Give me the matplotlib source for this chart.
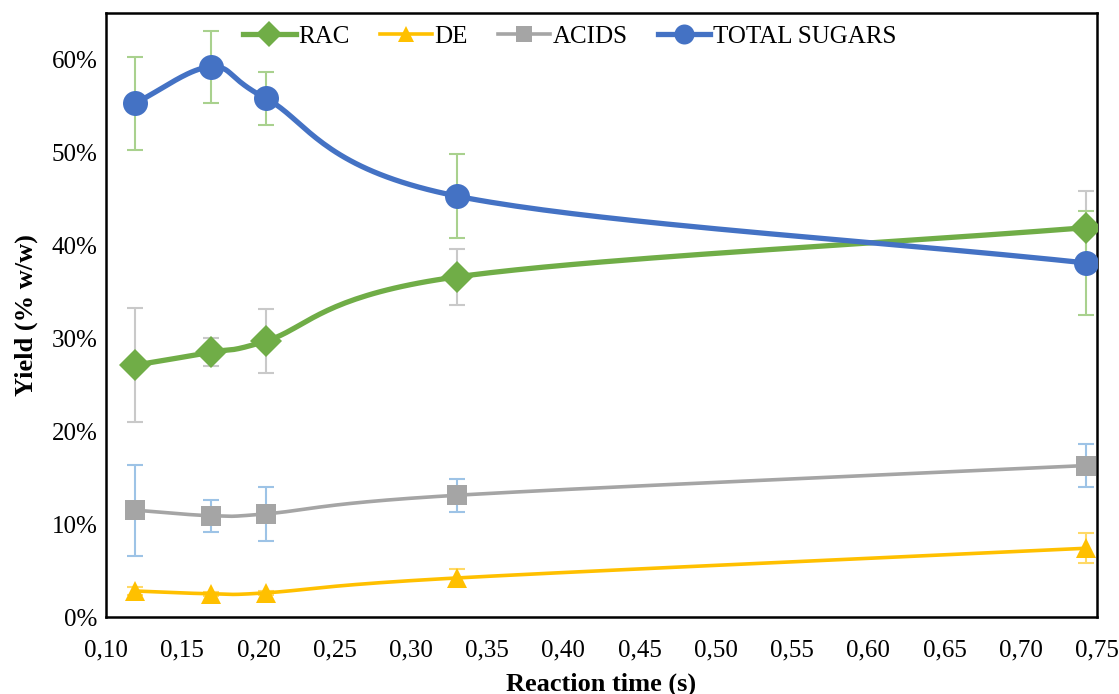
import matplotlib.pyplot as plt
import numpy as np
from matplotlib.ticker import FuncFormatter, MultipleLocator

plt.rcParams['font.family'] = ['Liberation Serif', 'DejaVu Serif']

# reaction time (s)
time_s = [0.119, 0.169, 0.205, 0.330, 0.743]

rac = [0.271, 0.285, 0.297, 0.366, 0.419]
rac_err = [0.061, 0.015, 0.034, 0.030, 0.039]
de = [0.028, 0.025, 0.026, 0.042, 0.074]
de_err = [0.004, 0.002, 0.002, 0.010, 0.016]
acids = [0.115, 0.109, 0.111, 0.131, 0.163]
acids_err = [0.049, 0.017, 0.029, 0.018, 0.023]
sugars = [0.553, 0.592, 0.558, 0.453, 0.381]
sugars_err = [0.050, 0.039, 0.029, 0.045, 0.056]

series_names = ["RAC", "DE", "ACIDS", "TOTAL SUGARS"]


def smooth(x, y, n=40):
    # excel-style smoothed line (catmull-rom through the points)
    x = np.asarray(x, float)
    y = np.asarray(y, float)
    px = np.concatenate([[2 * x[0] - x[1]], x, [2 * x[-1] - x[-2]]])
    py = np.concatenate([[2 * y[0] - y[1]], y, [2 * y[-1] - y[-2]]])
    xs, ys = [], []
    t = np.linspace(0, 1, n)
    for i in range(1, len(px) - 2):
        p0, p1, p2, p3 = [np.array([px[j], py[j]]) for j in range(i - 1, i + 3)]
        b1 = p1 + (p2 - p0) / 6
        b2 = p2 - (p3 - p1) / 6
        pts = ((1 - t) ** 3)[:, None] * p1 + (3 * (1 - t) ** 2 * t)[:, None] * b1 \
            + (3 * (1 - t) * t ** 2)[:, None] * b2 + (t ** 3)[:, None] * p2
        xs.extend(pts[:, 0])
        ys.extend(pts[:, 1])
    return np.array(xs), np.array(ys)


fig = plt.figure(figsize=(11.19, 6.94), dpi=100)
ax = fig.add_axes([106 / 1119, 1 - 617 / 694, 991 / 1119, 604 / 694])

styles = [
    (rac, rac_err, "#70ad47", "D", 16, 3.8, "#c9c9c9"),
    (de, de_err, "#ffc000", "^", 15, 2.6, "#ffd966"),
    (acids, acids_err, "#a5a5a5", "s", 15, 2.6, "#9dc3e6"),
    (sugars, sugars_err, "#4472c4", "o", 18, 3.8, "#a9d18e"),
]

for name, (vals, errs, col, mk, ms, lw, ecol) in zip(series_names, styles):
    ax.errorbar(time_s, vals, yerr=errs, fmt="none", ecolor=ecol, elinewidth=1.5,
                capsize=6, capthick=1.5, zorder=2)
    sx, sy = smooth(time_s, vals)
    ax.plot(sx, sy, color=col, lw=lw, zorder=3)
    ax.plot(time_s, vals, linestyle="none", marker=mk, ms=ms, color=col,
            markeredgewidth=0, zorder=4)
    ax.plot([], [], color=col, lw=lw, marker=mk, ms=ms * 0.8, markeredgewidth=0,
            label=name)

ax.set_xlim(0.10, 0.75)
ax.set_ylim(0, 0.65)
ax.xaxis.set_major_locator(MultipleLocator(0.05))
ax.set_yticks(np.arange(0, 0.61, 0.1))
ax.xaxis.set_major_formatter(FuncFormatter(lambda v, p: "{:.2f}".format(v).replace(".", ",")))
ax.yaxis.set_major_formatter(FuncFormatter(lambda v, p: "{:.0f}%".format(v * 100)))
ax.tick_params(labelsize=18, length=0)
ax.tick_params(axis="x", pad=16)
ax.tick_params(axis="y", pad=6)
for s in ax.spines.values():
    s.set_linewidth(1.8)
    s.set_color("black")

ax.set_xlabel("Reaction time (s)", fontsize=19, fontweight="bold", labelpad=8)
ax.set_ylabel("Yield (% w/w)", fontsize=19, fontweight="bold", labelpad=10)

ax.legend(loc="upper center", bbox_to_anchor=(0.468, 1.017), ncol=4, frameon=False,
          fontsize=18, handlelength=2.1, columnspacing=1.2, handletextpad=0.1)

fig.savefig("out.png", dpi=100)
